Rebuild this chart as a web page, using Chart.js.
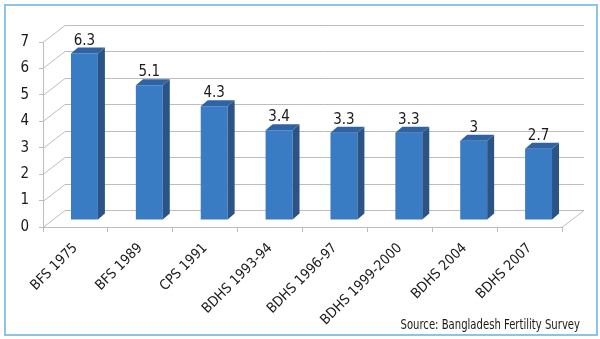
<!DOCTYPE html>
<html>
<head>
<meta charset="utf-8">
<script src="https://cdn.jsdelivr.net/npm/chart.js@4.4.0/dist/chart.umd.min.js"></script>
<style>
  body { margin: 0; background: #fff; }
</style>
</head>
<body>
<canvas id="chart" width="600" height="339"></canvas>
<script>
const surveys = ['BFS 1975', 'BFS 1989', 'CPS 1991', 'BDHS 1993-94', 'BDHS 1996-97', 'BDHS 1999-2000', 'BDHS 2004', 'BDHS 2007'];
const fertilityRates = [6.3, 5.1, 4.3, 3.4, 3.3, 3.3, 3, 2.7];
const sourceNote = 'Source: Bangladesh Fertility Survey';

const FONT = "'Liberation Sans Narrow', 'DejaVu Sans Condensed', 'Liberation Sans', sans-serif";
const GRID = '#bdbdbd';
// 3D offsets: whole depth of the box, and where the bars sit inside it
const depth = { dx: 22, dy: -17 };
const barShift = { dx: 9, dy: -7 };
const barDepth = { dx: 7, dy: -6 };

const box3d = {
  id: 'box3d',
  beforeDraw(chart) {
    const ctx = chart.ctx;
    ctx.save();
    ctx.strokeStyle = '#8ec3e6';
    ctx.lineWidth = 2;
    ctx.strokeRect(5, 5, 592, 330);
    ctx.restore();
  },
  beforeDatasetsDraw(chart) {
    const { ctx, chartArea, scales } = chart;
    const y = scales.y;
    ctx.save();
    ctx.strokeStyle = GRID;
    ctx.lineWidth = 1;
    // wall grid lines
    y.ticks.forEach((t) => {
      const py = Math.round(y.getPixelForValue(t.value)) + 0.5;
      ctx.beginPath();
      ctx.moveTo(chartArea.left, py);
      ctx.lineTo(chartArea.left + depth.dx, py + depth.dy);
      ctx.lineTo(chartArea.right + depth.dx, py + depth.dy);
      ctx.stroke();
    });
    // floor right edge
    const p0 = Math.round(y.getPixelForValue(0)) + 0.5;
    ctx.beginPath();
    ctx.moveTo(chartArea.right, p0);
    ctx.lineTo(chartArea.right + depth.dx, p0 + depth.dy);
    ctx.stroke();
    ctx.restore();

    ctx.save();
    ctx.translate(barShift.dx, barShift.dy);
  },
  afterDatasetsDraw(chart) {
    const ctx = chart.ctx;
    const meta = chart.getDatasetMeta(0);
    meta.data.forEach((bar, i) => {
      const { x, y, base, width } = bar.getProps(['x', 'y', 'base', 'width'], true);
      const l = x - width / 2;
      const r = x + width / 2;
      ctx.fillStyle = '#2b5385';
      ctx.beginPath();
      ctx.moveTo(r, y);
      ctx.lineTo(r + barDepth.dx, y + barDepth.dy);
      ctx.lineTo(r + barDepth.dx, base + barDepth.dy);
      ctx.lineTo(r, base);
      ctx.closePath();
      ctx.fill();
      ctx.fillStyle = '#3063a3';
      ctx.beginPath();
      ctx.moveTo(l, y);
      ctx.lineTo(l + barDepth.dx, y + barDepth.dy);
      ctx.lineTo(r + barDepth.dx, y + barDepth.dy);
      ctx.lineTo(r, y);
      ctx.closePath();
      ctx.fill();

      ctx.fillStyle = '#1a1a1a';
      ctx.font = '15px ' + FONT;
      ctx.textAlign = 'center';
      ctx.textBaseline = 'alphabetic';
      ctx.fillText(String(fertilityRates[i]), x, y - 9);
    });
    ctx.restore();
  },
  afterDraw(chart) {
    const ctx = chart.ctx;
    ctx.save();
    ctx.fillStyle = '#1a1a1a';
    ctx.font = '14px ' + FONT;
    ctx.textAlign = 'right';
    ctx.translate(580, 329);
    ctx.scale(0.8, 1);
    ctx.fillText(sourceNote, 0, 0);
    ctx.restore();
  }
};

new Chart(document.getElementById('chart'), {
  type: 'bar',
  data: {
    labels: surveys,
    datasets: [{
      data: fertilityRates,
      backgroundColor: '#3a7cc4',
      borderWidth: 0,
      barPercentage: 0.415,
      categoryPercentage: 1,
      clip: false
    }]
  },
  options: {
    responsive: false,
    devicePixelRatio: 1,
    animation: false,
    layout: { padding: { left: 0, right: 38, top: 42, bottom: 0 } },
    plugins: { legend: { display: false }, tooltip: { enabled: false } },
    scales: {
      x: {
        afterFit: (s) => { s.height = 112; },
        grid: { display: true, drawOnChartArea: false, tickLength: 5, color: GRID },
        border: { display: true, color: GRID },
        ticks: {
          minRotation: 45, maxRotation: 45, padding: 8,
          color: '#1a1a1a', font: { family: FONT, size: 14 }
        }
      },
      y: {
        min: 0, max: 7,
        afterFit: (s) => { s.width = 43; },
        grid: { display: true, drawOnChartArea: false, tickLength: 4, color: GRID },
        border: { display: true, color: GRID },
        ticks: {
          stepSize: 1, padding: 10,
          color: '#1a1a1a', font: { family: FONT, size: 15 }
        }
      }
    }
  },
  plugins: [box3d]
});
</script>
</body>
</html>
